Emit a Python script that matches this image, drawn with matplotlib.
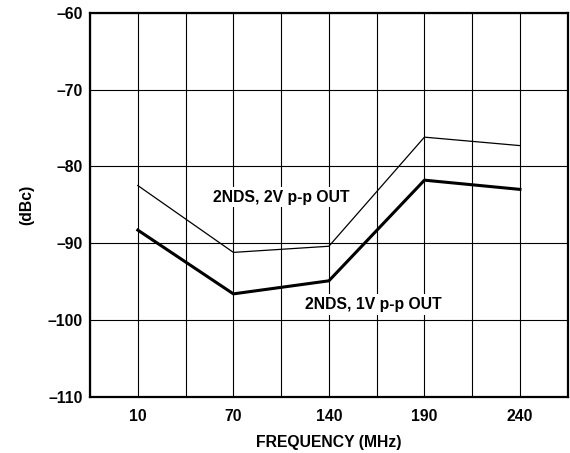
import matplotlib
matplotlib.use("Agg")
import matplotlib.pyplot as plt
from matplotlib.ticker import MultipleLocator

categories = ["10", "70", "140", "190", "240"]
series_2v = [-82.5, -91.2, -90.4, -76.2, -77.3]
series_1v = [-88.3, -96.6, -94.9, -81.8, -83.0]
y_ticks = [-110, -100, -90, -80, -70, -60]
y_tick_labels = ["–110", "–100", "–90", "–80", "–70", "–60"]

plt.rcParams['font.family'] = ['Liberation Sans', 'DejaVu Sans']
plt.rcParams['font.weight'] = 'bold'

FS = 11.3

fig = plt.figure(figsize=(5.70, 4.53), dpi=100)
ax = fig.add_axes([0.158, 0.124, 0.838, 0.848])

x = list(range(len(categories)))
ax.set_xlim(-0.5, len(categories) - 0.5)
ax.set_ylim(-110, -60)

ax.xaxis.set_minor_locator(MultipleLocator(0.5))
ax.set_xticks(x)
ax.set_xticklabels(categories, fontsize=FS, fontweight='bold')
ax.set_yticks(y_ticks)
ax.set_yticklabels(y_tick_labels, fontsize=FS, fontweight='bold')
ax.tick_params(axis='both', which='both', length=0)
ax.tick_params(axis='x', pad=9)
ax.tick_params(axis='y', pad=5)

ax.grid(True, which='both', axis='x', color='black', linewidth=0.8)
ax.grid(True, which='major', axis='y', color='black', linewidth=0.8)
ax.set_axisbelow(True)

for s in ax.spines.values():
    s.set_linewidth(1.6)

ax.plot(x, series_2v, color='black', linewidth=0.9, zorder=3)
ax.plot(x, series_1v, color='black', linewidth=2.2, zorder=3)

ax.text(1.5, -84.0, "2NDS, 2V p-p OUT", ha='center', va='center', fontsize=FS,
        fontweight='bold', zorder=2,
        bbox=dict(facecolor='white', edgecolor='none', pad=2))
ax.text(2.46, -98.0, "2NDS, 1V p-p OUT", ha='center', va='center', fontsize=FS,
        fontweight='bold', zorder=2,
        bbox=dict(facecolor='white', edgecolor='none', pad=2))

ax.set_xlabel("FREQUENCY (MHz)", fontsize=FS, fontweight='bold', labelpad=8)
ax.set_ylabel("(dBc)", fontsize=FS, fontweight='bold', labelpad=10)

fig.savefig("out.png", dpi=100)
